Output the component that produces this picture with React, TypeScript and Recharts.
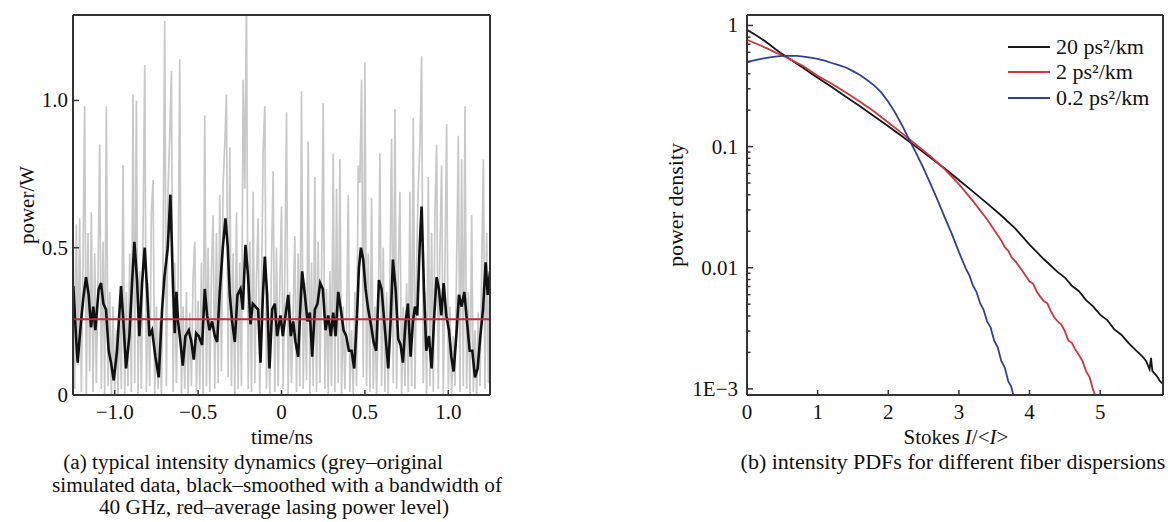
import React from "react";
import { LineChart, Line, XAxis, YAxis, ReferenceLine, Legend } from "recharts";

const FONT = '"Liberation Serif", "Times New Roman", serif';
const AXIS = "#333";
const INK = "#111";

// (a) raw simulated trace, one sample every 0.01 ns starting at -1.25 ns
const RAW_T0 = -1.25;
const RAW_DT = 0.01;
const RAW_POWER = [
  0.62, 0.02, 0.58, 0.1, 0.6, 0.01, 0.45, 0.98, 0.0, 0.55, 0.08, 0.62, 0.01, 0.48, 0.04, 0.4, 0.85, 0.02, 0.52, 0.0, 0.98, 0.03, 0.35, 0.0, 0.3,
  0.01, 0.22, 0.0, 0.28, 0.02, 0.78, 0.0, 0.35, 0.03, 0.48, 0.01, 1.02, 0.04, 1.0, 0.0, 0.42, 0.02, 0.55, 1.12, 0.01, 0.38, 0.03, 0.62, 0.73, 0.0,
  0.3, 0.02, 0.25, 0.0, 0.48, 1.27, 0.03, 0.7, 0.88, 1.1, 0.01, 0.45, 0.04, 0.38, 1.14, 0.0, 0.3, 0.02, 0.35, 0.0, 0.28, 0.03, 0.4, 0.52, 0.01,
  0.32, 0.02, 0.45, 0.0, 0.95, 0.03, 0.5, 0.01, 0.42, 0.61, 0.02, 0.55, 0.04, 0.68, 0.08, 0.72, 0.85, 1.02, 0.06, 0.84, 0.03, 0.48, 0.0, 0.62, 0.02,
  0.45, 0.03, 1.07, 0.7, 1.35, 0.02, 0.52, 0.01, 0.69, 0.04, 0.4, 0.6, 0.0, 0.35, 0.83, 0.98, 0.02, 0.3, 0.0, 0.45, 0.76, 0.01, 0.5, 0.03, 0.38,
  0.64, 0.02, 0.42, 0.96, 0.0, 0.35, 0.04, 0.28, 0.54, 0.01, 0.48, 0.03, 1.03, 0.02, 0.38, 0.05, 0.86, 0.0, 0.45, 0.03, 0.74, 0.01, 0.52, 0.04, 0.4,
  0.99, 0.02, 0.36, 0.0, 0.42, 0.03, 0.82, 0.01, 0.7, 0.04, 0.8, 0.0, 0.3, 0.02, 0.25, 0.68, 0.01, 0.22, 0.0, 0.35, 0.03, 0.78, 0.72, 1.07, 0.06,
  1.13, 0.03, 0.48, 0.01, 0.67, 0.02, 0.3, 0.0, 0.25, 0.82, 0.03, 0.5, 0.01, 0.35, 0.0, 0.4, 0.87, 0.04, 0.97, 0.02, 0.42, 0.69, 0.0, 0.3, 0.03,
  0.38, 0.01, 0.69, 0.03, 0.94, 0.02, 0.45, 0.7, 0.85, 1.15, 0.04, 0.35, 0.0, 0.74, 0.03, 0.55, 0.01, 0.62, 0.85, 0.02, 0.5, 0.78, 0.0, 0.45, 0.92,
  0.02, 0.3, 0.0, 0.2, 0.03, 0.45, 0.88, 0.01, 0.8, 0.03, 0.98, 0.02, 0.35, 0.0, 0.61, 0.01, 0.22, 0.0, 0.28, 0.03, 0.42, 0.8, 0.02, 0.55, 0.04, 0.48,
];

// smoothed (40 GHz) trace: [time ns, power W]
const SMOOTH_POWER: [number, number][] = [
  [-1.248, 0.37], [-1.232, 0.2], [-1.222, 0.11], [-1.202, 0.25], [-1.188, 0.33], [-1.172, 0.4], [-1.156, 0.34], [-1.142, 0.23],
  [-1.128, 0.3], [-1.116, 0.22], [-1.096, 0.36], [-1.082, 0.38], [-1.068, 0.31], [-1.052, 0.29], [-1.036, 0.15], [-1.022, 0.11],
  [-1.006, 0.05], [-0.986, 0.15], [-0.962, 0.37], [-0.948, 0.25], [-0.932, 0.09], [-0.912, 0.2], [-0.896, 0.38], [-0.882, 0.52],
  [-0.866, 0.39], [-0.852, 0.2], [-0.836, 0.38], [-0.82, 0.5], [-0.806, 0.36], [-0.792, 0.2], [-0.776, 0.22], [-0.756, 0.13],
  [-0.736, 0.06], [-0.716, 0.29], [-0.702, 0.4], [-0.682, 0.5], [-0.666, 0.68], [-0.652, 0.4], [-0.64, 0.21], [-0.63, 0.35],
  [-0.62, 0.25], [-0.606, 0.18], [-0.592, 0.1], [-0.576, 0.2], [-0.556, 0.22], [-0.54, 0.18], [-0.526, 0.12], [-0.512, 0.21],
  [-0.496, 0.2], [-0.476, 0.17], [-0.46, 0.36], [-0.446, 0.27], [-0.432, 0.22], [-0.416, 0.25], [-0.4, 0.2], [-0.386, 0.18],
  [-0.37, 0.35], [-0.352, 0.5], [-0.336, 0.6], [-0.322, 0.5], [-0.31, 0.34], [-0.296, 0.25], [-0.28, 0.18], [-0.264, 0.34],
  [-0.246, 0.36], [-0.232, 0.29], [-0.216, 0.51], [-0.2, 0.4], [-0.186, 0.24], [-0.172, 0.31], [-0.156, 0.3], [-0.14, 0.29],
  [-0.126, 0.11], [-0.112, 0.33], [-0.1, 0.47], [-0.086, 0.34], [-0.072, 0.09], [-0.056, 0.29], [-0.04, 0.31], [-0.026, 0.2],
  [-0.006, 0.27], [0.008, 0.2], [0.024, 0.27], [0.04, 0.34], [0.056, 0.2], [0.07, 0.25], [0.084, 0.18], [0.1, 0.13],
  [0.114, 0.31], [0.124, 0.42], [0.14, 0.34], [0.156, 0.25], [0.17, 0.28], [0.184, 0.13], [0.2, 0.29], [0.216, 0.31],
  [0.232, 0.38], [0.248, 0.36], [0.264, 0.22], [0.28, 0.27], [0.296, 0.2], [0.31, 0.28], [0.324, 0.2], [0.34, 0.35],
  [0.356, 0.29], [0.372, 0.22], [0.388, 0.2], [0.404, 0.15], [0.42, 0.15], [0.436, 0.09], [0.452, 0.26], [0.464, 0.43],
  [0.476, 0.5], [0.49, 0.46], [0.504, 0.36], [0.52, 0.29], [0.536, 0.24], [0.552, 0.18], [0.568, 0.15], [0.584, 0.39],
  [0.6, 0.36], [0.616, 0.25], [0.64, 0.09], [0.654, 0.25], [0.668, 0.46], [0.684, 0.36], [0.7, 0.19], [0.714, 0.17],
  [0.728, 0.11], [0.744, 0.25], [0.758, 0.31], [0.774, 0.13], [0.788, 0.25], [0.8, 0.3], [0.814, 0.27], [0.828, 0.5],
  [0.84, 0.64], [0.854, 0.36], [0.868, 0.15], [0.884, 0.2], [0.9, 0.09], [0.916, 0.27], [0.93, 0.4], [0.944, 0.36],
  [0.958, 0.27], [0.972, 0.38], [0.988, 0.27], [1.004, 0.22], [1.018, 0.13], [1.032, 0.08], [1.048, 0.2], [1.064, 0.34],
  [1.08, 0.3], [1.096, 0.35], [1.112, 0.25], [1.128, 0.15], [1.144, 0.15], [1.16, 0.06], [1.176, 0.09], [1.192, 0.2],
  [1.208, 0.29], [1.224, 0.45], [1.236, 0.34], [1.25, 0.42],
];

const AVG_POWER = 0.257;
const TIME_TICKS = [-1, -0.5, 0, 0.5, 1];
const POWER_TICKS = [0, 0.5, 1];

// (b) intensity PDFs: [I/<I>, density]
const PDF_20: [number, number][] = [
  [0, 0.92], [0.1, 0.85], [0.2, 0.78], [0.3, 0.71], [0.4, 0.64], [0.5, 0.58], [0.6, 0.53], [0.7, 0.485], [0.8, 0.445],
  [0.9, 0.405], [1.0, 0.37], [1.2, 0.31], [1.4, 0.258], [1.6, 0.215], [1.8, 0.178], [2.0, 0.147], [2.2, 0.121], [2.4, 0.099],
  [2.6, 0.081], [2.8, 0.066], [3.0, 0.053], [3.2, 0.0425], [3.4, 0.034], [3.6, 0.027], [3.8, 0.021], [4.0, 0.0155],
  [4.2, 0.0118], [4.4, 0.0092], [4.5, 0.0083], [4.6, 0.0071], [4.7, 0.0064], [4.8, 0.0054], [4.9, 0.0048], [5.0, 0.0041],
  [5.1, 0.0037], [5.2, 0.0031], [5.3, 0.0028], [5.4, 0.0024], [5.5, 0.0021], [5.6, 0.00185], [5.65, 0.0017], [5.7, 0.00145],
  [5.72, 0.0018], [5.74, 0.0014], [5.8, 0.00128], [5.85, 0.00115], [5.89, 0.0011],
];
const PDF_2: [number, number][] = [
  [0, 0.76], [0.1, 0.72], [0.2, 0.68], [0.3, 0.64], [0.4, 0.6], [0.5, 0.565], [0.6, 0.53], [0.8, 0.46], [1.0, 0.385],
  [1.2, 0.33], [1.4, 0.28], [1.6, 0.235], [1.8, 0.195], [2.0, 0.158], [2.2, 0.128], [2.4, 0.103], [2.6, 0.083], [2.8, 0.065],
  [3.0, 0.049], [3.2, 0.0355], [3.4, 0.025], [3.5, 0.0205], [3.6, 0.0168], [3.65, 0.0148], [3.7, 0.0138], [3.75, 0.0121],
  [3.8, 0.0113], [3.9, 0.0094], [4.0, 0.0077], [4.05, 0.0074], [4.1, 0.0064], [4.15, 0.0058], [4.2, 0.0053], [4.25, 0.0051],
  [4.3, 0.0044], [4.35, 0.0039], [4.4, 0.0036], [4.45, 0.0034], [4.5, 0.003], [4.55, 0.0025], [4.6, 0.0024], [4.65, 0.0021],
  [4.7, 0.0019], [4.75, 0.0017], [4.8, 0.0014], [4.85, 0.00125], [4.9, 0.00098], [4.95, 0.00082],
];
const PDF_02: [number, number][] = [
  [0, 0.5], [0.1, 0.515], [0.2, 0.53], [0.3, 0.543], [0.4, 0.553], [0.5, 0.56], [0.6, 0.562], [0.7, 0.56], [0.8, 0.553],
  [0.9, 0.543], [1.0, 0.53], [1.1, 0.512], [1.2, 0.49], [1.3, 0.47], [1.4, 0.45], [1.5, 0.42], [1.6, 0.39], [1.7, 0.355],
  [1.8, 0.32], [1.9, 0.28], [2.0, 0.235], [2.1, 0.19], [2.2, 0.148], [2.3, 0.113], [2.4, 0.087], [2.5, 0.066], [2.6, 0.049],
  [2.7, 0.036], [2.8, 0.026], [2.9, 0.019], [3.0, 0.0135], [3.1, 0.0098], [3.15, 0.0086], [3.2, 0.0071], [3.25, 0.0063],
  [3.3, 0.0051], [3.35, 0.0045], [3.4, 0.0036], [3.45, 0.0032], [3.5, 0.0025], [3.55, 0.0022], [3.6, 0.0017], [3.65, 0.0015],
  [3.7, 0.00115], [3.74, 0.00105], [3.78, 0.00085],
];
const SERIES_NAMES = ["20 ps²/km", "2 ps²/km", "0.2 ps²/km"];

const STOKES_TICKS = [0, 1, 2, 3, 4, 5];
const DENSITY_MAJOR = [0.001, 0.01, 0.1, 1];
const DENSITY_MINOR = [
  0.002, 0.003, 0.004, 0.005, 0.006, 0.007, 0.008, 0.009,
  0.02, 0.03, 0.04, 0.05, 0.06, 0.07, 0.08, 0.09,
  0.2, 0.3, 0.4, 0.5, 0.6, 0.7, 0.8, 0.9,
];
const DENSITY_LABELS: Record<string, string> = { "0.001": "1E\u22123", "0.01": "0.01", "0.1": "0.1", "1": "1" };

const rawData = RAW_POWER.map((v, i) => ({ t: RAW_T0 + i * RAW_DT, p: v }));
const smoothData = SMOOTH_POWER.map(([t, p]) => ({ t, p }));
const toXY = (arr: [number, number][]) => arr.map(([x, y]) => ({ x, y }));

const fmtTime = (v: number) => (v === 0 ? "0" : (v < 0 ? "\u2212" : "") + Math.abs(v).toFixed(1));
const fmtPower = (v: number) => (v === 0 ? "0" : v.toFixed(1));

const bottomTick = (fmt: (v: number) => string) => (p: any) => (
  <g>
    <line x1={p.x} x2={p.x} y1={p.y} y2={p.y - 5} stroke={AXIS} strokeWidth={1.5} />
    <text x={p.x} y={p.y + 24} textAnchor="middle" fontFamily={FONT} fontSize={21} fill={INK}>
      {fmt(p.payload.value)}
    </text>
  </g>
);

const leftTick = (fmt: (v: number) => string | null, gap: number) => (p: any) => {
  const label = fmt(p.payload.value);
  return (
    <g>
      <line x1={p.x} x2={p.x + (label ? 6 : 3.5)} y1={p.y} y2={p.y} stroke={AXIS} strokeWidth={1.5} />
      {label && (
        <text x={p.x - gap} y={p.y + 7} textAnchor="end" fontFamily={FONT} fontSize={21} fill={INK}>
          {label}
        </text>
      )}
    </g>
  );
};

const frame = { stroke: AXIS, strokeWidth: 2 };

function LegendBox({ payload }: any) {
  const items = [...(payload || [])].sort(
    (a: any, b: any) => SERIES_NAMES.indexOf(a.value) - SERIES_NAMES.indexOf(b.value)
  );
  return (
    <div style={{ fontFamily: FONT, fontSize: 22, color: INK }}>
      {items.map((e: any) => (
        <div key={e.value} style={{ display: "flex", alignItems: "center", height: 25.5 }}>
          <span style={{ display: "inline-block", width: 42, height: 2, background: e.color, marginRight: 6 }} />
          <span>{e.value}</span>
        </div>
      ))}
    </div>
  );
}

const abs = (style: React.CSSProperties): React.CSSProperties => ({
  position: "absolute",
  fontFamily: FONT,
  color: INK,
  whiteSpace: "nowrap",
  ...style,
});

function Centered({ cx, cy, size = 21, children }: { cx: number; cy: number; size?: number; children: React.ReactNode }) {
  return (
    <div style={abs({ left: cx - 300, top: cy - 12, width: 600, height: 24, lineHeight: "24px", textAlign: "center", fontSize: size })}>
      {children}
    </div>
  );
}

function VTitle({ cx, cy, size = 21, children }: { cx: number; cy: number; size?: number; children: React.ReactNode }) {
  return (
    <div
      style={abs({
        left: cx - 100,
        top: cy - 12,
        width: 200,
        height: 24,
        lineHeight: "24px",
        textAlign: "center",
        fontSize: size,
        transform: "rotate(-90deg)",
      })}
    >
      {children}
    </div>
  );
}

export default function App() {
  return (
    <div style={{ position: "absolute", left: 0, top: 0, width: 1168, height: 522, background: "#fff", overflow: "hidden" }}>
      <div style={{ position: "absolute", left: 0, top: 0 }}>
        <LineChart width={500} height={440} margin={{ top: 14, right: 9, bottom: 0, left: 0 }}>
          <XAxis
            dataKey="t"
            type="number"
            domain={[-1.25, 1.25]}
            allowDataOverflow
            ticks={TIME_TICKS}
            interval={0}
            height={45}
            tickSize={0}
            tickMargin={0}
            tickLine={false}
            axisLine={frame}
            tick={bottomTick(fmtTime)}
          />
          <XAxis xAxisId="top" orientation="top" type="number" domain={[0, 1]} height={1} tick={false} tickLine={false} axisLine={frame} />
          <YAxis
            type="number"
            domain={[0, 1.29]}
            allowDataOverflow
            ticks={POWER_TICKS}
            interval={0}
            width={73}
            tickSize={0}
            tickMargin={0}
            tickLine={false}
            axisLine={frame}
            tick={leftTick(fmtPower, 5)}
          />
          <YAxis yAxisId="right" orientation="right" type="number" domain={[0, 1]} width={1} tick={false} tickLine={false} axisLine={frame} />
          <Line data={rawData} dataKey="p" type="linear" stroke="#c8c8c8" strokeWidth={1.7} dot={false} isAnimationActive={false} />
          <Line data={smoothData} dataKey="p" type="linear" stroke="#111" strokeWidth={2.6} dot={false} isAnimationActive={false} />
          <ReferenceLine y={AVG_POWER} stroke="#b3303d" strokeWidth={2} />
        </LineChart>
      </div>

      <div style={{ position: "absolute", left: 660, top: 0 }}>
        <LineChart width={508} height={440} margin={{ top: 14, right: 4, bottom: 0, left: 0 }}>
          <XAxis
            dataKey="x"
            type="number"
            domain={[0, 5.89]}
            allowDataOverflow
            ticks={STOKES_TICKS}
            interval={0}
            height={45}
            tickSize={0}
            tickMargin={0}
            tickLine={false}
            axisLine={frame}
            tick={bottomTick((v) => String(v))}
          />
          <XAxis xAxisId="top" orientation="top" type="number" domain={[0, 1]} height={1} tick={false} tickLine={false} axisLine={frame} />
          <YAxis
            dataKey="y"
            scale="log"
            type="number"
            domain={[0.00089, 1.22]}
            allowDataOverflow
            ticks={[...DENSITY_MAJOR, ...DENSITY_MINOR].sort((a, b) => a - b)}
            interval={0}
            width={87}
            tickSize={0}
            tickMargin={0}
            tickLine={false}
            axisLine={frame}
            tick={leftTick((v) => DENSITY_LABELS[String(v)] ?? null, 9)}
          />
          <YAxis yAxisId="right" orientation="right" type="number" domain={[0, 1]} width={1} tick={false} tickLine={false} axisLine={frame} />
          <Line data={toXY(PDF_20)} dataKey="y" name={SERIES_NAMES[0]} type="linear" stroke="#151515" strokeWidth={1.8} dot={false} isAnimationActive={false} />
          <Line data={toXY(PDF_2)} dataKey="y" name={SERIES_NAMES[1]} type="linear" stroke="#d3343d" strokeWidth={1.8} dot={false} isAnimationActive={false} />
          <Line data={toXY(PDF_02)} dataKey="y" name={SERIES_NAMES[2]} type="linear" stroke="#2f3f98" strokeWidth={1.8} dot={false} isAnimationActive={false} />
          <Legend
            layout="vertical"
            verticalAlign="middle"
            align="center"
            wrapperStyle={{ left: 348, top: 34, width: 160 }}
            content={(props: any) => <LegendBox payload={props.payload} />}
          />
        </LineChart>
      </div>

      <VTitle cx={27} cy={205}>power/W</VTitle>
      <Centered cx={282} cy={437}>time/ns</Centered>
      <Centered cx={253} cy={462} size={21.3}>(a) typical intensity dynamics (grey–original</Centered>
      <Centered cx={277} cy={485} size={21.3}>simulated data, black–smoothed with a bandwidth of</Centered>
      <Centered cx={274} cy={507} size={21.3}>40 GHz, red–average lasing power level)</Centered>

      <VTitle cx={676} cy={205} size={22}>power density</VTitle>
      <Centered cx={956} cy={437}>
        Stokes <i>I</i>/&lt;<i>I</i>&gt;
      </Centered>
      <Centered cx={953} cy={462} size={22}>(b) intensity PDFs for different fiber dispersions</Centered>
    </div>
  );
}
